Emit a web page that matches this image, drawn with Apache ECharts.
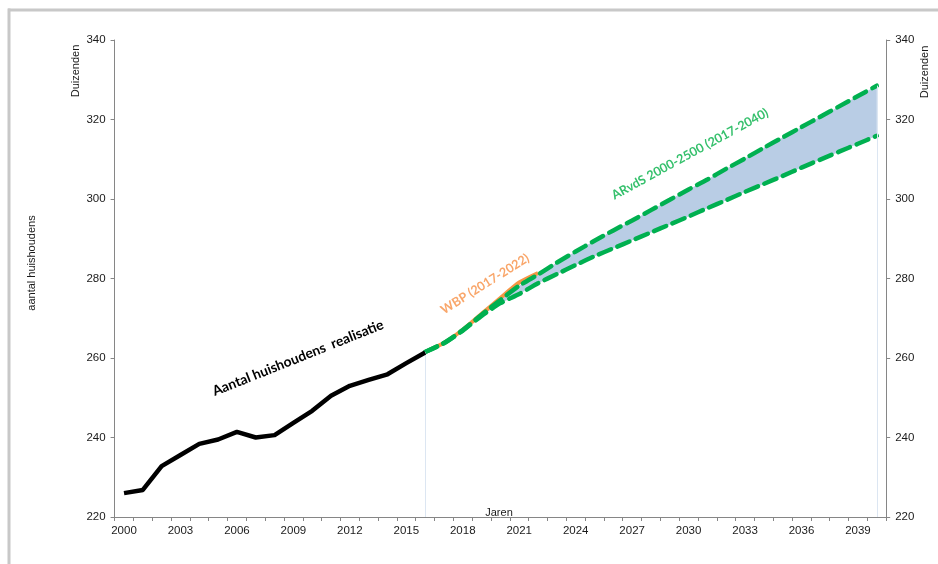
<!DOCTYPE html>
<html>
<head>
<meta charset="utf-8">
<script src="https://cdn.jsdelivr.net/npm/echarts@6/dist/echarts.min.js"></script>
<style>html,body{margin:0;padding:0;background:#fff;}#c{width:938px;height:564px;}</style>
</head>
<body>
<div id="c"></div>
<script>
var years = ['2000','2001','2002','2003','2004','2005','2006','2007','2008','2009','2010',
  '2011','2012','2013','2014','2015','2016','2017','2018','2019','2020',
  '2021','2022','2023','2024','2025','2026','2027','2028','2029','2030',
  '2031','2032','2033','2034','2035','2036','2037','2038','2039','2040'];
var realisatie = [226.0,226.8,232.8,235.6,238.4,239.5,241.4,240.0,240.6,243.7,246.7,
  250.5,253.0,254.5,255.9,258.7,261.4];
var arvdsHoog = [261.5,263.8,267.0,270.9,274.6,278.2,281.0,284.0,286.8,289.5,292.1,
  294.6,297.2,299.8,302.4,304.9,307.6,310.2,312.9,315.5,318.1,320.7,323.3,325.9,328.5];
var arvdsLaag = [261.5,263.7,266.9,270.6,273.8,276.1,278.8,281.1,283.4,285.6,287.6,
  289.6,291.6,293.6,295.6,297.7,299.7,301.8,303.8,305.8,307.9,309.9,311.9,313.9,315.9];
var wbp = [261.5,263.8,267.1,271.1,275.1,279.0,281.4];
var yTicks = {min:220, max:340, interval:20};

var startIdx = years.indexOf('2016');
function pad(arr, start){
  var out = [];
  for (var i = 0; i < years.length; i++){
    var j = i - start;
    out.push(j >= 0 && j < arr.length ? arr[j] : '-');
  }
  return out;
}
var realData = pad(realisatie, 0);
var hoogData = pad(arvdsHoog, startIdx);
var laagData = pad(arvdsLaag, startIdx);
var wbpData = pad(wbp, startIdx);
var diffData = hoogData.map(function(v, i){ return v === '-' ? '-' : +(v - laagData[i]).toFixed(2); });

var chart = echarts.init(document.getElementById('c'));
var font = 'Liberation Sans, Arial, sans-serif';
var axisLineStyle = {color:'#868686', width:1};
var dash = [13, 7];

chart.setOption({
  animation: false,
  backgroundColor: '#fff',
  grid: {left:114.6, right:51.8, top:40, bottom:47},
  xAxis: {
    type: 'category', data: years, boundaryGap: true,
    axisLine: {lineStyle: axisLineStyle},
    axisTick: {show:true, interval:0, length:4, lineStyle: axisLineStyle},
    axisLabel: {interval:2, margin:8, fontFamily:font, fontSize:11.5, color:'#1a1a1a'},
    splitLine: {show:false}
  },
  yAxis: [
    {type:'value', min:yTicks.min, max:yTicks.max, interval:yTicks.interval, position:'left',
     axisLine:{show:true, lineStyle:axisLineStyle},
     axisTick:{show:true, length:4, lineStyle:axisLineStyle},
     axisLabel:{margin:9, fontFamily:font, fontSize:11.5, color:'#1a1a1a'},
     splitLine:{show:false}},
    {type:'value', min:yTicks.min, max:yTicks.max, interval:yTicks.interval, position:'right',
     axisLine:{show:true, lineStyle:axisLineStyle},
     axisTick:{show:true, length:4, lineStyle:axisLineStyle},
     axisLabel:{margin:9, fontFamily:font, fontSize:11.5, color:'#1a1a1a'},
     splitLine:{show:false}}
  ],
  series: [
    {name:'base', type:'line', data:laagData, stack:'band', symbol:'none',
     lineStyle:{opacity:0}, areaStyle:{opacity:0}, z:1, silent:true,
     markLine:{symbol:'none', silent:true, label:{show:false},
       lineStyle:{color:'#dce6f2', width:1, type:'solid'},
       data:[
         [{coord:['2016', yTicks.min]}, {coord:['2016', realisatie[realisatie.length-1]]}],
         [{coord:['2040', yTicks.min]}, {coord:['2040', arvdsHoog[arvdsHoog.length-1]]}]
       ]}},
    {name:'band', type:'line', data:diffData, stack:'band', symbol:'none',
     lineStyle:{opacity:0}, areaStyle:{color:'#b9cde5', opacity:1}, z:1, silent:true},
    {name:'WBP (2017-2022)', type:'line', data:wbpData, symbol:'none', smooth:0.2,
     lineStyle:{color:'#f79646', width:4}, z:3},
    {name:'ARvdS laag', type:'line', data:laagData, symbol:'none', smooth:0.2,
     lineStyle:{color:'#00b050', width:4.5, type:dash, cap:'round'}, z:4},
    {name:'ARvdS hoog', type:'line', data:hoogData, symbol:'none', smooth:0.2,
     lineStyle:{color:'#00b050', width:4.5, type:dash, cap:'round'}, z:4},
    {name:'Aantal huishoudens realisatie', type:'line', data:realData, symbol:'none',
     lineStyle:{color:'#000', width:4.5, join:'round'}, z:5}
  ],
  graphic: [
    {type:'rect', shape:{x:8, y:8.5, width:930, height:3}, style:{fill:'#c8c8c8'}, silent:true},
    {type:'rect', shape:{x:7.5, y:8.5, width:3, height:556}, style:{fill:'#c8c8c8'}, silent:true},
    {type:'text', x:32, y:263, rotation:Math.PI/2,
     style:{text:'aantal huishoudens', font:'11px '+font, fill:'#1a1a1a', align:'center', verticalAlign:'middle'}},
    {type:'text', x:76, y:71, rotation:Math.PI/2,
     style:{text:'Duizenden', font:'11px '+font, fill:'#1a1a1a', align:'center', verticalAlign:'middle'}},
    {type:'text', x:925, y:72, rotation:Math.PI/2,
     style:{text:'Duizenden', font:'11px '+font, fill:'#1a1a1a', align:'center', verticalAlign:'middle'}},
    {type:'text', x:499, y:513,
     style:{text:'Jaren', font:'11px '+font, fill:'#1a1a1a', align:'center', verticalAlign:'middle'}},
    {type:'text', x:298, y:358, rotation:0.38,
     style:{text:'Aantal huishoudens  realisatie', font:'bold 13.8px Lato, "Open Sans", sans-serif', fill:'#000', align:'center', verticalAlign:'middle'}},
    {type:'text', x:485, y:284, rotation:0.56,
     style:{text:'WBP (2017-2022)', font:'bold 12.5px Lato, "Open Sans", sans-serif', fill:'#f9a66a', align:'center', verticalAlign:'middle'}},
    {type:'text', x:690, y:154, rotation:0.50,
     style:{text:'ARvdS 2000-2500 (2017-2040)', font:'bold 12.6px Lato, "Open Sans", sans-serif', fill:'#35c06c', align:'center', verticalAlign:'middle'}}
  ]
});
</script>
</body>
</html>
